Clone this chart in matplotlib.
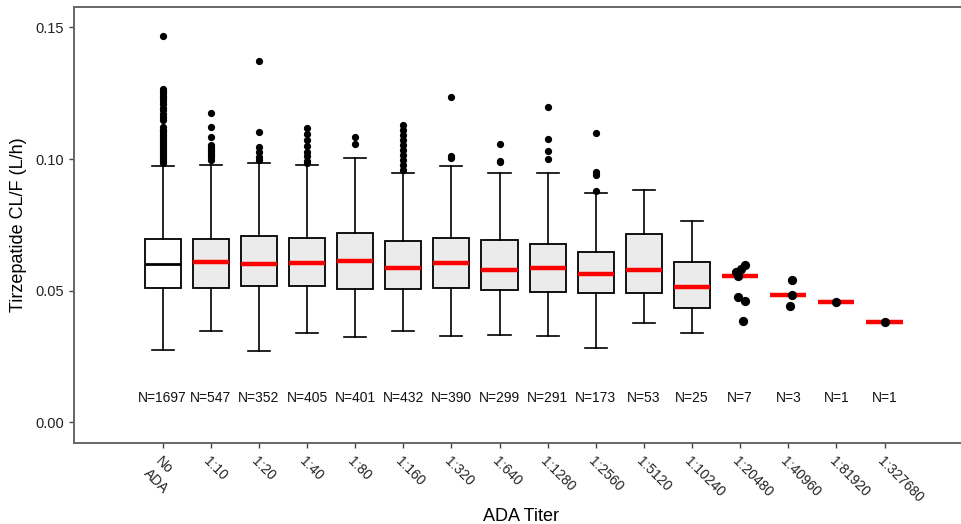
import numpy as np
import matplotlib
matplotlib.use("Agg")
import matplotlib.pyplot as plt

plt.rcParams['font.family'] = ['Liberation Sans', 'DejaVu Sans']

# categories and counts
categories = ["No\nADA", "1:10", "1:20", "1:40", "1:80", "1:160", "1:320", "1:640",
              "1:1280", "1:2560", "1:5120", "1:10240", "1:20480", "1:40960",
              "1:81920", "1:327680"]
n_counts = [1697, 547, 352, 405, 401, 432, 390, 299, 291, 173, 53, 25, 7, 3, 1, 1]

# box statistics for the first 12 groups
whislo = [0.0277, 0.0348, 0.0273, 0.0341, 0.0323, 0.0348, 0.0329, 0.0333, 0.0329, 0.0281, 0.0379, 0.0338]
q1 = [0.0511, 0.0511, 0.0519, 0.0519, 0.0505, 0.0508, 0.0511, 0.0503, 0.0495, 0.0492, 0.0493, 0.0436]
med = [0.0601, 0.0611, 0.0601, 0.0607, 0.0613, 0.0588, 0.0605, 0.0579, 0.0586, 0.0563, 0.0578, 0.0514]
q3 = [0.0698, 0.0697, 0.0707, 0.0701, 0.0721, 0.0690, 0.0702, 0.0694, 0.0678, 0.0646, 0.0717, 0.0609]
whishi = [0.0975, 0.0979, 0.0984, 0.0979, 0.1003, 0.0947, 0.0974, 0.0947, 0.0947, 0.0873, 0.0884, 0.0766]

# outliers
fliers = [
    [0.1467, 0.1265, 0.1258, 0.1250, 0.1240, 0.1230, 0.1220, 0.1210, 0.1195, 0.1185,
     0.1170, 0.1160, 0.1150, 0.1120, 0.1112, 0.1105, 0.1098, 0.1090, 0.1082, 0.1075,
     0.1068, 0.1060, 0.1052, 0.1045, 0.1038, 0.1030, 0.1022, 0.1015, 0.1008, 0.1000,
     0.0992, 0.0985],
    [0.1174, 0.1123, 0.1083, 0.1053, 0.1045, 0.1038, 0.1030, 0.1022, 0.1015, 0.1008, 0.0997],
    [0.1372, 0.1103, 0.1047, 0.1028, 0.1009, 0.0998],
    [0.1119, 0.1094, 0.1071, 0.1050, 0.1028, 0.1010, 0.0994, 0.0985],
    [0.1083, 0.1056],
    [0.1129, 0.1110, 0.1091, 0.1072, 0.1053, 0.1034, 0.1016, 0.0997, 0.0978, 0.0960],
    [0.1236, 0.1013, 0.1004],
    [0.1058, 0.0993, 0.0988],
    [0.1198, 0.1077, 0.1031, 0.1000],
    [0.1099, 0.0952, 0.0940, 0.0880],
    [],
    [],
]

# individual values for the small groups
small_values = [
    [0.0598, 0.0582, 0.0573, 0.0557, 0.0478, 0.0463, 0.0386],
    [0.0541, 0.0483, 0.0443],
    [0.0457],
    [0.0383],
]
small_jitter = [
    [0.11, 0.01, -0.08, -0.04, -0.04, 0.11, 0.06],
    [0.08, 0.08, 0.04],
    [0.0],
    [0.0],
]

fig = plt.figure(figsize=(9.62, 5.24), dpi=100)
ax = fig.add_axes([0.077, 0.155, 0.93, 0.831])

box_w = 0.75
stats = []
for i in range(len(med)):
    stats.append(dict(med=med[i], q1=q1[i], q3=q3[i], whislo=whislo[i],
                      whishi=whishi[i], fliers=fliers[i]))

box_pos = np.arange(len(med))
bp = ax.bxp(stats, positions=box_pos, widths=box_w, patch_artist=True,
            capwidths=0.46, showfliers=True,
            boxprops=dict(edgecolor='black', linewidth=1.3),
            whiskerprops=dict(color='black', linewidth=1.2),
            capprops=dict(color='black', linewidth=1.2),
            medianprops=dict(color='red', linewidth=3.2, solid_capstyle='butt'),
            flierprops=dict(marker='o', markerfacecolor='black', markeredgecolor='black',
                            markersize=4.2, linestyle='none'))
for k, patch in enumerate(bp['boxes']):
    patch.set_facecolor('white' if k == 0 else '#ebebeb')
bp['medians'][0].set_color('black')
bp['medians'][0].set_linewidth(2.0)

# small groups: points + median line
for j, vals in enumerate(small_values):
    x = len(med) + j
    ax.hlines(np.median(vals), x - box_w / 2, x + box_w / 2, color='red',
              linewidth=3.2, zorder=2)
    ax.scatter(x + np.array(small_jitter[j]), vals, s=32, color='black', zorder=3)

# N labels
for i, n in enumerate(n_counts):
    ax.text(i, 0.0094, f"N={n}", ha='center', va='center', fontsize=10, color='#111111')

ax.set_xlim(-1.84, 16.75)
ax.set_ylim(-0.0077, 0.1576)
ax.set_yticks([0.00, 0.05, 0.10, 0.15])
ax.set_yticklabels(["0.00", "0.05", "0.10", "0.15"], fontsize=10.5, color='#222222')
ax.set_xticks(np.arange(len(categories)))
ax.set_xticklabels(categories, rotation=-45, ha='left', va='top',
                   rotation_mode='anchor', fontsize=10, color='#222222',
                   multialignment='left')
ax.tick_params(axis='both', length=3.5, width=1, color='#444444')
ax.tick_params(axis='x', pad=5)

for side in ['left', 'bottom', 'top']:
    ax.spines[side].set_color('#666666')
    ax.spines[side].set_linewidth(1.4)
ax.spines['right'].set_visible(False)

ax.set_ylabel("Tirzepatide CL/F (L/h)", fontsize=13, labelpad=6)
ax.set_xlabel("ADA Titer", fontsize=13, labelpad=2)

fig.savefig("out.png", dpi=100)
